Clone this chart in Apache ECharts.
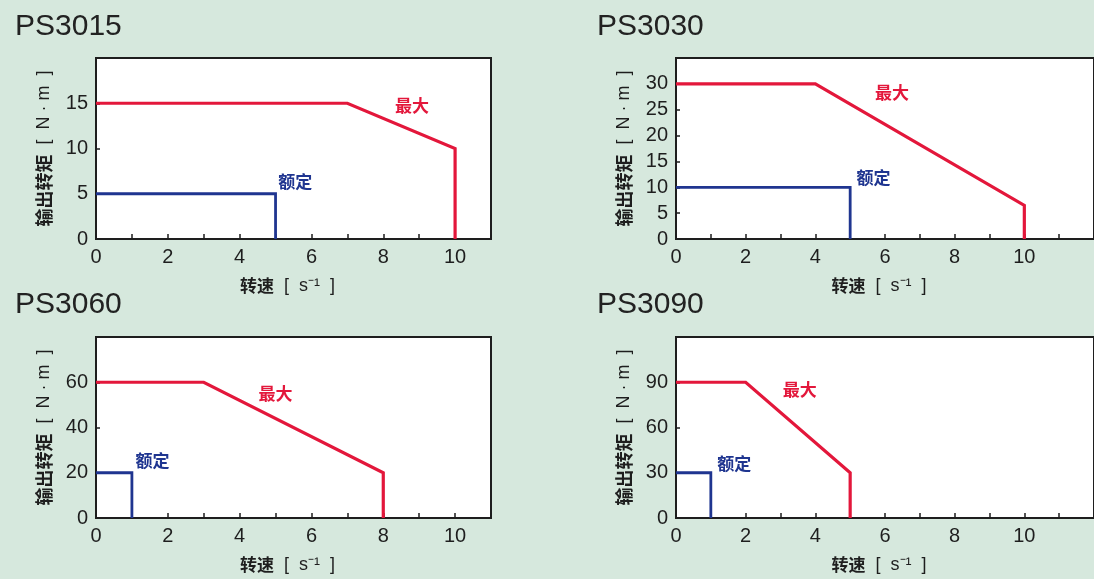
<!DOCTYPE html>
<html>
<head>
<meta charset="utf-8">
<script src="https://cdn.jsdelivr.net/npm/echarts@6/dist/echarts.min.js"></script>
<style>
  html, body { margin: 0; padding: 0; background: #d6e8dd; }
  #main { width: 1094px; height: 579px; }
</style>
</head>
<body>
<div id="main"></div>
<script>
// 型号
var models = ['PS3015', 'PS3030', 'PS3060', 'PS3090'];

// 最大转矩曲线 [转速, 转矩]
var ps3015Max = [[0, 15], [7, 15], [10, 10], [10, 0]];
var ps3030Max = [[0, 30], [4, 30], [10, 6.5], [10, 0]];
var ps3060Max = [[0, 60], [3, 60], [8, 20], [8, 0]];
var ps3090Max = [[0, 90], [2, 90], [5, 30], [5, 0]];

// 额定转矩曲线
var ps3015Rated = [[0, 5], [5, 5], [5, 0]];
var ps3030Rated = [[0, 10], [5, 10], [5, 0]];
var ps3060Rated = [[0, 20], [1, 20], [1, 0]];
var ps3090Rated = [[0, 30], [1, 30], [1, 0]];

// 坐标轴范围
var xMax = [11, 12, 11, 12];
var yMax = [20, 35, 80, 120];
var yStep = [5, 5, 20, 30];

// 文字标注位置
var maxLabelAt = [[8.8, 14.8], [6.2, 28.3], [5.0, 55], [3.55, 85]];
var ratedLabelAt = [[5.55, 6.4], [5.67, 11.9], [1.57, 25.6], [1.67, 36]];

var maxLines = [ps3015Max, ps3030Max, ps3060Max, ps3090Max];
var ratedLines = [ps3015Rated, ps3030Rated, ps3060Rated, ps3090Rated];

var RED = '#e3173b';
var BLUE = '#1f3590';
var INK = '#1e1e1e';
var NUM_FONT = 'Liberation Sans, Arial, sans-serif';
var CJK_FONT = 'Noto Sans CJK SC';

var gridPos = [
  { left: 96, top: 58, width: 395, height: 181 },
  { left: 676, top: 58, width: 432, height: 181 },
  { left: 96, top: 337, width: 395, height: 181 },
  { left: 676, top: 337, width: 432, height: 181 }
];
var titlePos = [
  { left: 15, top: 12 },
  { left: 597, top: 12 },
  { left: 15, top: 290 },
  { left: 597, top: 290 }
];

var chart = echarts.init(document.getElementById('main'));

var option = {
  backgroundColor: '#d6e8dd',
  animation: false,
  title: [],
  grid: [],
  xAxis: [],
  yAxis: [],
  series: []
};

for (var i = 0; i < 4; i++) {
  option.title.push({
    text: models[i],
    left: titlePos[i].left,
    top: titlePos[i].top,
    padding: 0,
    textStyle: { fontFamily: NUM_FONT, fontSize: 30, fontWeight: 'normal', color: '#222' }
  });
  option.grid.push({
    left: gridPos[i].left,
    top: gridPos[i].top,
    width: gridPos[i].width,
    height: gridPos[i].height,
    show: true,
    backgroundColor: '#ffffff',
    borderColor: INK,
    borderWidth: 2
  });
  option.xAxis.push({
    type: 'value',
    gridIndex: i,
    min: 0,
    max: xMax[i],
    interval: 2,
    name: '{b|转速}{n|  [  s⁻¹  ]}',
    nameLocation: 'middle',
    nameGap: 38,
    nameTextStyle: {
      color: INK,
      padding: [0, 12, 0, 0],
      rich: {
        b: { fontFamily: CJK_FONT, fontSize: 17, fontWeight: 'bold', color: INK },
        n: { fontFamily: NUM_FONT, fontSize: 18, color: INK }
      }
    },
    axisLine: { show: true, lineStyle: { color: INK, width: 2 } },
    axisTick: { show: true, inside: true, length: 5, lineStyle: { color: INK, width: 1.5 } },
    minorTick: { show: true, splitNumber: 2, length: 5, lineStyle: { color: INK, width: 1.5 } },
    splitLine: { show: false },
    axisLabel: {
      showMaxLabel: false, margin: 8,
      fontFamily: NUM_FONT, fontSize: 20, color: INK
    }
  });
  option.yAxis.push({
    type: 'value',
    gridIndex: i,
    min: 0,
    max: yMax[i],
    interval: yStep[i],
    name: '{b|输出转矩}{n|  [  N · m  ]}',
    nameLocation: 'middle',
    nameGap: 43,
    nameTextStyle: {
      color: INK,
      rich: {
        b: { fontFamily: CJK_FONT, fontSize: 18, fontWeight: 'bold', color: INK },
        n: { fontFamily: NUM_FONT, fontSize: 18, color: INK }
      }
    },
    axisLine: { show: true, lineStyle: { color: INK, width: 2 } },
    axisTick: { show: true, inside: true, length: 4, lineStyle: { color: INK, width: 1.5 } },
    splitLine: { show: false },
    axisLabel: {
      showMaxLabel: false, margin: 8,
      fontFamily: NUM_FONT, fontSize: 20, color: INK
    }
  });
  option.series.push({
    name: '最大',
    type: 'line',
    xAxisIndex: i,
    yAxisIndex: i,
    data: maxLines[i],
    showSymbol: false,
    z: 5,
    lineStyle: { color: RED, width: 3.2, join: 'miter' },
    markPoint: {
      symbol: 'circle',
      symbolSize: 1,
      itemStyle: { color: 'rgba(0,0,0,0)' },
      label: {
        show: true, position: 'inside', formatter: '最大',
        fontFamily: CJK_FONT, fontSize: 17, fontWeight: 'bold', color: RED
      },
      data: [{ coord: maxLabelAt[i] }]
    }
  });
  option.series.push({
    name: '额定',
    type: 'line',
    xAxisIndex: i,
    yAxisIndex: i,
    data: ratedLines[i],
    showSymbol: false,
    z: 5,
    lineStyle: { color: BLUE, width: 2.8, join: 'miter' },
    markPoint: {
      symbol: 'circle',
      symbolSize: 1,
      itemStyle: { color: 'rgba(0,0,0,0)' },
      label: {
        show: true, position: 'inside', formatter: '额定',
        fontFamily: CJK_FONT, fontSize: 17, fontWeight: 'bold', color: BLUE
      },
      data: [{ coord: ratedLabelAt[i] }]
    }
  });
}

chart.setOption(option);
</script>
</body>
</html>
